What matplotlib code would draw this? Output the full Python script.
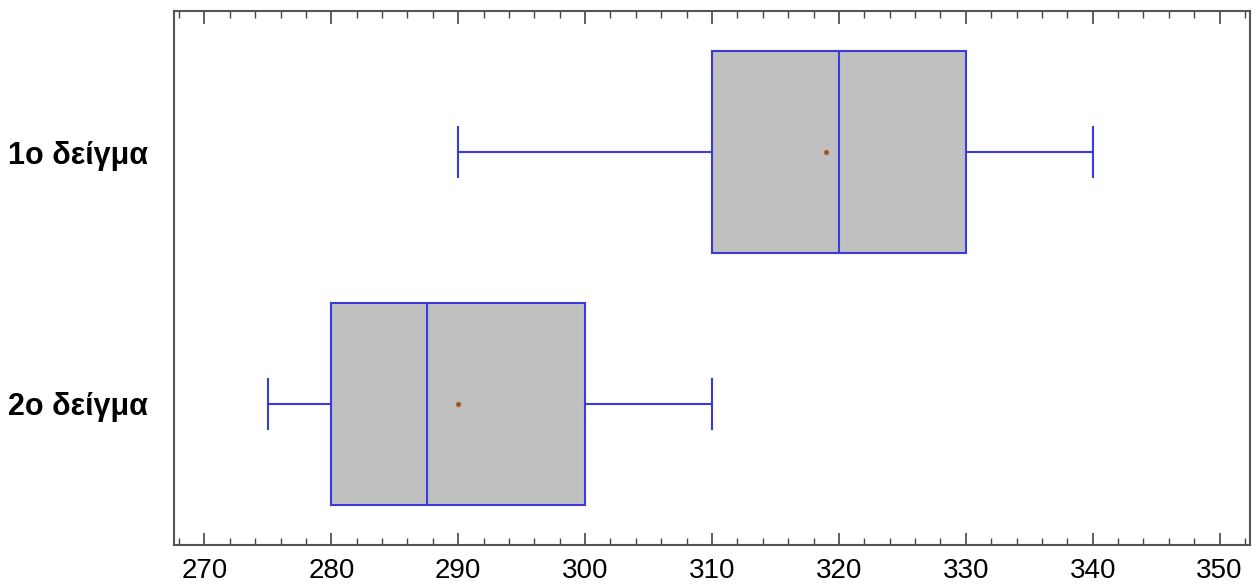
import matplotlib.pyplot as plt
from matplotlib.ticker import MultipleLocator

plt.rcParams['font.family'] = ['Liberation Sans', 'DejaVu Sans']

labels = ['1ο δείγμα', '2ο δείγμα']
whislo = [290, 275]
q1 = [310, 280]
med = [320, 287.5]
q3 = [330, 300]
whishi = [340, 310]
means = [319, 290]

stats = []
for i in range(len(labels)):
    stats.append(dict(label=labels[i], whislo=whislo[i], q1=q1[i], med=med[i],
                      q3=q3[i], whishi=whishi[i], mean=means[i], fliers=[]))

fig = plt.figure(figsize=(12.56, 5.88), dpi=100)
ax = fig.add_axes([174 / 1256, 1 - 545 / 588, (1250 - 174) / 1256, (545 - 11) / 588])

blue = '#3a3adf'
ax.bxp(stats, positions=[1, 2], vert=False, widths=0.8, patch_artist=True,
       showmeans=True, showfliers=False,
       boxprops=dict(facecolor='#c0c0c0', edgecolor=blue, linewidth=1.5),
       medianprops=dict(color=blue, linewidth=1.5),
       whiskerprops=dict(color=blue, linewidth=1.5),
       capprops=dict(color=blue, linewidth=1.5),
       capwidths=0.2,
       meanprops=dict(marker='o', markersize=3, markerfacecolor='#8b4513',
                      markeredgecolor='#b07040'))

ax.set_ylim(2.56, 0.44)
ax.set_xlim(267.6, 352.4)
ax.xaxis.set_major_locator(MultipleLocator(10))
ax.xaxis.set_minor_locator(MultipleLocator(2))
ax.tick_params(axis='x', which='both', direction='in', top=True, bottom=True,
               color='#444444')
ax.tick_params(axis='x', which='major', length=9, width=1.2, labelsize=20, pad=9)
ax.tick_params(axis='x', which='minor', length=5, width=1)
ax.tick_params(axis='y', length=0, labelsize=22, pad=19)
for lab in ax.get_yticklabels():
    lab.set_fontweight('bold')
for sp in ax.spines.values():
    sp.set_color('#555555')
    sp.set_linewidth(1.5)

fig.savefig('out.png', dpi=100)
